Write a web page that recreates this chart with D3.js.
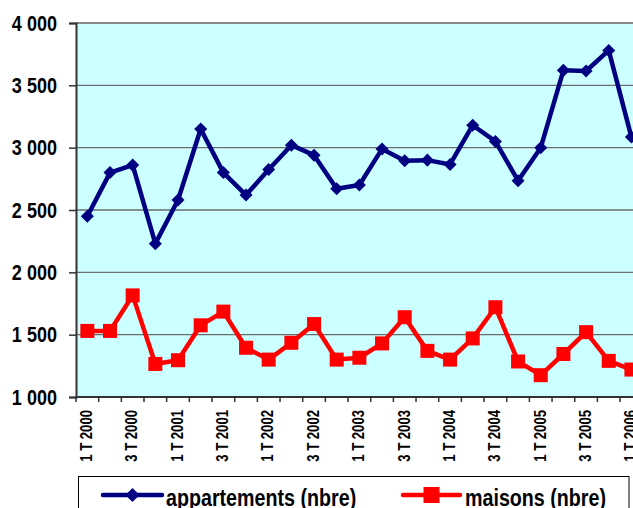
<!DOCTYPE html>
<html lang="fr">
<head>
    <meta charset="UTF-8">
    <style>
        body { margin: 0; background: #fff; }
        svg { display: block; font-family: "Liberation Sans", Arial, sans-serif; font-weight: bold; }
    </style>
</head>
<body>
    <svg width="633" height="508"></svg>
    <script src="https://d3js.org/d3.v7.min.js"></script>
    <script>
        // trimestres 1 T 2000 -> 1 T 2006
        let quarters = []
        for (let yr = 2000; yr <= 2006; yr++) {
            for (let q = 1; q <= 4; q++) {
                if (yr == 2006 && q > 1) break
                quarters.push(q + " T " + yr)
            }
        }
        let appartements = [2450, 2800, 2860, 2230, 2580, 3150, 2800, 2620, 2825, 3020, 2940,
            2670, 2700, 2990, 2895, 2900, 2865, 3180, 3050, 2735, 3000, 3620, 3615, 3780, 3085]
        let maisons = [1530, 1530, 1815, 1265, 1295, 1575, 1685, 1395, 1300, 1435, 1585,
            1300, 1315, 1430, 1640, 1370, 1300, 1470, 1720, 1285, 1175, 1345, 1520, 1290, 1220]
        let yTicks = [1000, 1500, 2000, 2500, 3000, 3500, 4000]
        let seriesNames = ["appartements (nbre)", "maisons (nbre)"]

        let plotLeft = 76, plotTop = 23, plotBottom = 397
        let step = 22.67
        let plotRight = plotLeft + step * quarters.length
        let narrow = 0.82 // police étroite (type Arial Narrow)

        let svg = d3.select("svg")

        let x = d3.scaleBand().domain(quarters).range([plotLeft, plotRight]).padding(0)
        let y = d3.scaleLinear().domain([1000, 4000]).range([plotBottom, plotTop])
        let fmt = d3.formatLocale({ decimal: ",", thousands: " ", grouping: [3], currency: ["", "€"] }).format(",d")

        // fond de la zone de tracé
        svg.append("rect")
            .attr("x", plotLeft).attr("y", plotTop)
            .attr("width", plotRight - plotLeft).attr("height", plotBottom - plotTop)
            .attr("fill", "#ccffff")

        // grille
        svg.selectAll(".grid")
            .data(yTicks.filter(d => d > 1000 && d < 4000))
            .enter().append("line")
            .attr("x1", plotLeft).attr("x2", plotRight)
            .attr("y1", d => y(d)).attr("y2", d => y(d))
            .attr("stroke", "#6b6b6b").attr("stroke-width", 1.3)

        // bord du haut
        svg.append("line")
            .attr("x1", plotLeft).attr("x2", plotRight)
            .attr("y1", y(4000)).attr("y2", y(4000))
            .attr("stroke", "#888").attr("stroke-width", 2)

        // axe Y
        let yAxis = svg.append("g")
            .attr("transform", "translate(" + plotLeft + ",0)")
            .call(d3.axisLeft(y).tickValues(yTicks).tickFormat(fmt).tickSize(7).tickPadding(11))
        yAxis.select(".domain").attr("stroke", "#333").attr("stroke-width", 2)
        yAxis.selectAll(".tick line").attr("stroke", "#333").attr("stroke-width", 1.5)
        yAxis.selectAll("text")
            .attr("fill", "#000")
            .attr("x", -19 / narrow)
            .attr("transform", "scale(" + narrow + ",1)")
            .style("font-size", "22px")
            .style("font-family", "'Liberation Sans', Arial, sans-serif")
            .style("font-weight", "bold")

        // axe X (catégories)
        svg.append("line")
            .attr("x1", plotLeft).attr("x2", plotRight)
            .attr("y1", plotBottom).attr("y2", plotBottom)
            .attr("stroke", "#333").attr("stroke-width", 2)
        svg.selectAll(".xtick")
            .data(quarters)
            .enter().append("line")
            .attr("x1", d => x(d)).attr("x2", d => x(d))
            .attr("y1", plotBottom).attr("y2", plotBottom + 5)
            .attr("stroke", "#333").attr("stroke-width", 1.5)
        svg.selectAll(".xlab")
            .data(quarters.filter((d, i) => i % 2 == 0))
            .enter().append("text")
            .attr("transform", d => "translate(" + (x(d) + x.bandwidth() / 2 + 4.8) + "," + (plotBottom + 13) + ") rotate(-90) scale(" + narrow + ",1)")
            .attr("text-anchor", "end")
            .style("font-size", "16px")
            .text(d => d)

        let line = d3.line()
            .x((d, i) => x(quarters[i]) + x.bandwidth() / 2)
            .y(d => y(d))
            .curve(d3.curveLinear)

        // appartements
        svg.append("path")
            .attr("d", line(appartements))
            .attr("fill", "none").attr("stroke", "#000080").attr("stroke-width", 4.5)
            .attr("stroke-linejoin", "round")
        svg.selectAll(".diam")
            .data(appartements)
            .enter().append("path")
            .attr("d", d3.symbol().type(d3.symbolSquare).size(85))
            .attr("transform", (d, i) => "translate(" + (x(quarters[i]) + x.bandwidth() / 2) + "," + y(d) + ") rotate(45)")
            .attr("fill", "#000080")

        // maisons
        svg.append("path")
            .attr("d", line(maisons))
            .attr("fill", "none").attr("stroke", "#ff0000").attr("stroke-width", 4.5)
            .attr("stroke-linejoin", "round")
        svg.selectAll(".sq")
            .data(maisons)
            .enter().append("rect")
            .attr("x", (d, i) => x(quarters[i]) + x.bandwidth() / 2 - 7)
            .attr("y", d => y(d) - 7)
            .attr("width", 14).attr("height", 14)
            .attr("fill", "#ff0000")

        // légende
        svg.append("rect")
            .attr("x", 78.5).attr("y", 476.5)
            .attr("width", 550.5).attr("height", 50)
            .attr("fill", "#fff").attr("stroke", "#000").attr("stroke-width", 1)

        let leg = [
            { name: seriesNames[0], color: "#000080", x1: 103, x2: 162, tx: 166, shape: "diamond" },
            { name: seriesNames[1], color: "#ff0000", x1: 403, x2: 460, tx: 465, shape: "square" }
        ]
        let ly = 495
        leg.forEach(function (l) {
            svg.append("line")
                .attr("x1", l.x1).attr("x2", l.x2)
                .attr("y1", ly).attr("y2", ly)
                .attr("stroke", l.color).attr("stroke-width", 4.5).attr("stroke-linecap", "round")
            let cx = (l.x1 + l.x2) / 2
            if (l.shape == "diamond") {
                svg.append("path")
                    .attr("d", d3.symbol().type(d3.symbolSquare).size(100))
                    .attr("transform", "translate(" + cx + "," + ly + ") rotate(45)")
                    .attr("fill", l.color)
            } else {
                svg.append("rect")
                    .attr("x", cx - 8).attr("y", ly - 8)
                    .attr("width", 16).attr("height", 16)
                    .attr("fill", l.color)
            }
            svg.append("text")
                .attr("transform", "translate(" + l.tx + "," + (ly + 11) + ") scale(" + narrow + ",1)")
                .style("font-size", "24px")
                .text(l.name)
        })
    </script>
</body>
</html>
